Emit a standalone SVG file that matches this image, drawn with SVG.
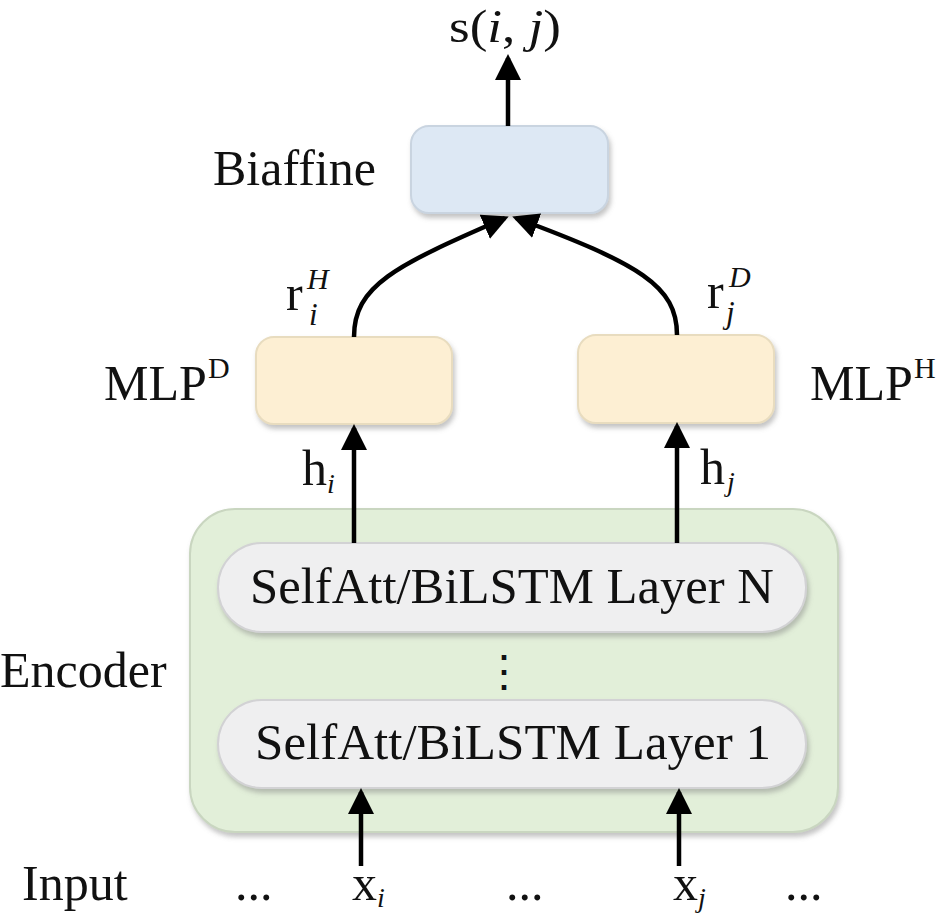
<svg xmlns="http://www.w3.org/2000/svg" width="946" height="924" viewBox="0 0 946 924">
<style>
text{font-family:"Liberation Serif","Times New Roman",serif;fill:#111;}
.lb{font-size:50px;}
.it{font-style:italic;}
.conn{fill:none;stroke:#000;stroke-width:4.5;marker-end:url(#ah);}
.box{filter:url(#sh);}
</style>
<defs>
<marker id="ah" markerUnits="userSpaceOnUse" markerWidth="28" markerHeight="28" refX="22" refY="13" orient="auto">
<path d="M0,0 L26,13 L0,26 z" fill="#000"/>
</marker>
<filter id="sh" x="-10%" y="-10%" width="125%" height="130%">
<feDropShadow dx="2" dy="4" stdDeviation="2.5" flood-color="#7a7a7a" flood-opacity="0.45"/>
</filter>
</defs>
<rect width="946" height="924" fill="#fff"/>

<g id="encoder">
<rect class="box" x="190" y="509" width="648" height="323" rx="45" fill="#e2efd9" stroke="#c9d6c0" stroke-width="2"/>
<text class="lb" x="0" y="687">Encoder</text>
</g>
<g id="layerN">
<rect class="box" x="218" y="543" width="588" height="89" rx="44" fill="#efeff0" stroke="#d2d2d4" stroke-width="2"/>
<text class="lb" x="250" y="603" textLength="524" lengthAdjust="spacingAndGlyphs">SelfAtt/BiLSTM Layer N</text>
</g>
<g id="dots">
<text x="504" y="686" text-anchor="middle" style="font-family:'DejaVu Serif',serif;font-size:44px">⋮</text>
</g>
<g id="layer1">
<rect class="box" x="218" y="700" width="588" height="88" rx="44" fill="#efeff0" stroke="#d2d2d4" stroke-width="2"/>
<text class="lb" x="255" y="759" textLength="516" lengthAdjust="spacingAndGlyphs">SelfAtt/BiLSTM Layer 1</text>
</g>
<g id="mlpD">
<rect class="box" x="256" y="337" width="196" height="87" rx="18" fill="#fdefd3" stroke="#e8dcbf" stroke-width="2"/>
<text class="lb" x="104" y="400">MLP</text>
<text x="208" y="378" style="font-size:30px">D</text>
</g>
<g id="mlpH">
<rect class="box" x="578" y="335" width="196" height="88" rx="18" fill="#fdefd3" stroke="#e8dcbf" stroke-width="2"/>
<text class="lb" x="810" y="400">MLP</text>
<text x="914" y="378" style="font-size:30px">H</text>
</g>
<g id="biaffine">
<rect class="box" x="411" y="126" width="197" height="87" rx="18" fill="#dde8f4" stroke="#c9d4e0" stroke-width="2"/>
<text class="lb" x="213" y="185">Biaffine</text>
</g>
<g id="output">
<text x="449" y="42" style="font-size:46px" textLength="112" lengthAdjust="spacingAndGlyphs">s(<tspan class="it">i</tspan>, <tspan class="it">j</tspan>)</text>
</g>

<g id="labels">
<text class="lb" x="286" y="310">r</text>
<text class="it" x="307" y="289" style="font-size:30px">H</text>
<text class="it" x="309" y="325" style="font-size:31px">i</text>
<text class="lb" x="707" y="308">r</text>
<text class="it" x="729" y="287" style="font-size:30px">D</text>
<text class="it" x="726" y="323" style="font-size:31px">j</text>
<text class="lb" x="302" y="485">h</text>
<text class="it" x="327" y="493" style="font-size:28px">i</text>
<text class="lb" x="700" y="484">h</text>
<text class="it" x="727" y="491" style="font-size:28px">j</text>
</g>

<g id="input">
<text class="lb" x="22" y="900">Input</text>
<text class="lb" x="235" y="900">...</text>
<text class="lb" x="352" y="900">x</text>
<text class="it" x="377" y="907" style="font-size:28px">i</text>
<text class="lb" x="506" y="900">...</text>
<text class="lb" x="673" y="900">x</text>
<text class="it" x="698" y="907" style="font-size:28px">j</text>
<text class="lb" x="785" y="900">...</text>
</g>

<g id="connectors">
<line class="conn" x1="508" y1="126" x2="508" y2="58"/>
<path class="conn" d="M354,337 C354,286 394,266 505,218"/>
<path class="conn" d="M677,335 C677,286 640,264 516,218"/>
<line class="conn" x1="354" y1="543" x2="354" y2="428"/>
<line class="conn" x1="677" y1="543" x2="677" y2="426"/>
<line class="conn" x1="361" y1="866" x2="361" y2="792"/>
<line class="conn" x1="679" y1="866" x2="679" y2="792"/>
</g>
</svg>
